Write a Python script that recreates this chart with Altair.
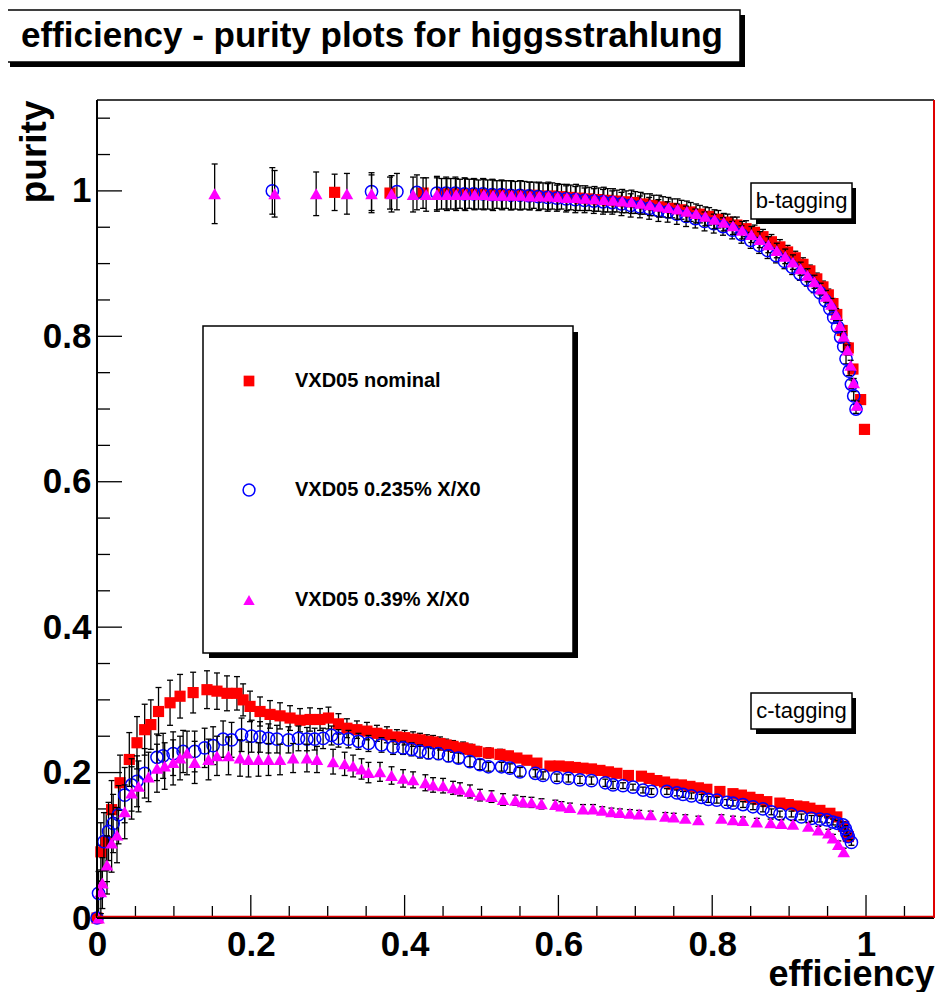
import altair as alt
import pandas as pd

# ---------------- data ----------------
series_names = ["VXD05 nominal", "VXD05 0.235% X/X0", "VXD05 0.39% X/X0"]
title_text = "efficiency - purity plots for higgsstrahlung"
x_title = "efficiency"
y_title = "purity"
tag_labels = ["b-tagging", "c-tagging"]

major_ticks = [0, 0.2, 0.4, 0.6, 0.8, 1.0]
x_minor_ticks = [0.05, 0.1, 0.15, 0.25, 0.3, 0.35, 0.45, 0.5, 0.55, 0.65, 0.7, 0.75, 0.85, 0.9, 0.95, 1.05]
y_minor_ticks = [0.05, 0.1, 0.15, 0.25, 0.3, 0.35, 0.45, 0.5, 0.55, 0.65, 0.7, 0.75, 0.85, 0.9, 0.95, 1.05, 1.1]

# b-tagging, nominal
b_nom_x = [0.309, 0.381, 0.424, 0.448, 0.460, 0.472, 0.484, 0.496, 0.508, 0.520,
           0.532, 0.544, 0.556, 0.568, 0.580, 0.592, 0.604, 0.616, 0.628, 0.640,
           0.652, 0.664, 0.676, 0.688, 0.700, 0.712, 0.724, 0.736, 0.748, 0.760,
           0.772, 0.784, 0.796, 0.808, 0.820, 0.832, 0.844, 0.855, 0.866, 0.877,
           0.888, 0.898, 0.908, 0.918, 0.927, 0.936, 0.944, 0.951, 0.957, 0.962,
           0.969, 0.977, 0.983, 0.993, 0.998]
b_nom_y = [0.998, 0.997, 0.997, 0.996, 0.996, 0.996, 0.996, 0.995, 0.995, 0.995,
           0.995, 0.994, 0.994, 0.994, 0.993, 0.993, 0.992, 0.991, 0.990, 0.989,
           0.988, 0.987, 0.986, 0.985, 0.984, 0.982, 0.980, 0.978, 0.976, 0.974,
           0.971, 0.968, 0.965, 0.961, 0.957, 0.953, 0.948, 0.943, 0.937, 0.930,
           0.923, 0.916, 0.908, 0.899, 0.890, 0.879, 0.868, 0.857, 0.845, 0.830,
           0.808, 0.784, 0.755, 0.713, 0.672]
b_nom_e = [0.025, 0.022, 0.021, 0.021, 0.021, 0.020, 0.020, 0.020, 0.020, 0.019,
           0.019, 0.019, 0.019, 0.018, 0.018, 0.018, 0.017, 0.017, 0.017, 0.016,
           0.016, 0.016, 0.015, 0.015, 0.015, 0.014, 0.014, 0.014, 0.013, 0.013,
           0.013, 0.012, 0.012, 0.012, 0.011, 0.011, 0.011, 0.010, 0.010, 0.010,
           0.010, 0.009, 0.009, 0.009, 0.008, 0.008, 0.008, 0.008, 0.007, 0.007,
           0.007, 0.007, 0.006, 0.006, 0.006]

# b-tagging, 0.235% X/X0
b_235_x = [0.228, 0.357, 0.390, 0.416, 0.442, 0.454, 0.466, 0.478, 0.490, 0.502,
           0.514, 0.526, 0.538, 0.550, 0.562, 0.574, 0.586, 0.598, 0.610, 0.622,
           0.634, 0.646, 0.658, 0.670, 0.682, 0.694, 0.706, 0.718, 0.730, 0.742,
           0.754, 0.766, 0.778, 0.790, 0.802, 0.814, 0.826, 0.838, 0.850, 0.861,
           0.872, 0.883, 0.894, 0.904, 0.914, 0.923, 0.932, 0.940, 0.947, 0.953,
           0.958, 0.963, 0.967, 0.971, 0.974, 0.978, 0.981, 0.984, 0.987]
b_235_y = [1.0, 0.999, 0.999, 0.998, 0.997, 0.997, 0.997, 0.996, 0.996, 0.996,
           0.995, 0.995, 0.994, 0.994, 0.993, 0.992, 0.991, 0.990, 0.989, 0.988,
           0.987, 0.986, 0.985, 0.984, 0.982, 0.980, 0.978, 0.976, 0.973, 0.971,
           0.968, 0.965, 0.962, 0.958, 0.955, 0.951, 0.946, 0.940, 0.932, 0.925,
           0.918, 0.911, 0.903, 0.895, 0.886, 0.878, 0.869, 0.860, 0.849, 0.838,
           0.826, 0.813, 0.799, 0.786, 0.769, 0.752, 0.734, 0.718, 0.700]
b_235_e = [0.032, 0.026, 0.025, 0.024, 0.023, 0.022, 0.022, 0.022, 0.021, 0.021,
           0.021, 0.020, 0.020, 0.020, 0.019, 0.019, 0.019, 0.018, 0.018, 0.018,
           0.017, 0.017, 0.017, 0.016, 0.016, 0.016, 0.015, 0.015, 0.015, 0.014,
           0.014, 0.014, 0.013, 0.013, 0.013, 0.012, 0.012, 0.012, 0.011, 0.011,
           0.011, 0.010, 0.010, 0.010, 0.009, 0.009, 0.009, 0.008, 0.008, 0.008,
           0.008, 0.007, 0.007, 0.007, 0.007, 0.006, 0.006, 0.006, 0.006]

# b-tagging, 0.39% X/X0
b_39_x = [0.153, 0.231, 0.285, 0.325, 0.357, 0.383, 0.411, 0.428, 0.442, 0.455,
          0.467, 0.479, 0.491, 0.503, 0.515, 0.527, 0.539, 0.551, 0.563, 0.575,
          0.587, 0.599, 0.611, 0.623, 0.635, 0.647, 0.659, 0.671, 0.683, 0.695,
          0.707, 0.719, 0.731, 0.743, 0.755, 0.767, 0.779, 0.791, 0.803, 0.815,
          0.827, 0.839, 0.851, 0.862, 0.873, 0.884, 0.895, 0.905, 0.915, 0.924,
          0.933, 0.941, 0.948, 0.955, 0.961, 0.966, 0.971, 0.976, 0.980, 0.984, 0.988]
b_39_y = [0.996, 0.996, 0.996, 0.996, 0.996, 0.996, 0.995, 0.995, 0.995, 0.995,
          0.995, 0.995, 0.995, 0.995, 0.994, 0.994, 0.994, 0.994, 0.993, 0.993,
          0.993, 0.992, 0.991, 0.991, 0.990, 0.989, 0.988, 0.987, 0.986, 0.985,
          0.983, 0.981, 0.979, 0.977, 0.975, 0.972, 0.969, 0.965, 0.961, 0.957,
          0.952, 0.946, 0.940, 0.933, 0.926, 0.918, 0.910, 0.902, 0.893, 0.884,
          0.875, 0.865, 0.855, 0.844, 0.830, 0.815, 0.800, 0.781, 0.760, 0.736, 0.705]
b_39_e = [0.041, 0.032, 0.030, 0.028, 0.026, 0.025, 0.024, 0.023, 0.023, 0.022,
          0.022, 0.022, 0.021, 0.021, 0.021, 0.020, 0.020, 0.020, 0.019, 0.019,
          0.019, 0.018, 0.018, 0.018, 0.017, 0.017, 0.017, 0.016, 0.016, 0.016,
          0.015, 0.015, 0.015, 0.014, 0.014, 0.014, 0.013, 0.013, 0.013, 0.012,
          0.012, 0.012, 0.011, 0.011, 0.011, 0.010, 0.010, 0.010, 0.009, 0.009,
          0.009, 0.008, 0.008, 0.008, 0.008, 0.007, 0.007, 0.007, 0.007, 0.006, 0.006]

# c-tagging, nominal
c_nom_x = [0, 0.005, 0.012, 0.019, 0.030, 0.042, 0.052, 0.062, 0.070, 0.080,
           0.095, 0.108, 0.125, 0.143, 0.156, 0.169, 0.182, 0.190, 0.199, 0.212,
           0.225, 0.238, 0.251, 0.264, 0.277, 0.290, 0.301, 0.314, 0.325, 0.338,
           0.351, 0.364, 0.377, 0.390, 0.400, 0.411, 0.420, 0.429, 0.437, 0.446,
           0.454, 0.463, 0.476, 0.485, 0.494, 0.509, 0.524, 0.535, 0.546, 0.559,
           0.572, 0.589, 0.601, 0.613, 0.622, 0.632, 0.643, 0.654, 0.665, 0.676,
           0.691, 0.708, 0.718, 0.728, 0.738, 0.749, 0.760, 0.771, 0.782, 0.793,
           0.810, 0.827, 0.838, 0.849, 0.860, 0.871, 0.888, 0.899, 0.910, 0.919,
           0.927, 0.940, 0.953, 0.962, 0.971, 0.977]
c_nom_y = [0, 0.091, 0.105, 0.149, 0.186, 0.218, 0.241, 0.259, 0.266, 0.284,
           0.296, 0.305, 0.310, 0.314, 0.312, 0.309, 0.309, 0.300, 0.291, 0.284,
           0.280, 0.278, 0.275, 0.272, 0.273, 0.273, 0.275, 0.267, 0.261, 0.259,
           0.257, 0.254, 0.252, 0.249, 0.248, 0.246, 0.245, 0.243, 0.242, 0.240,
           0.238, 0.236, 0.234, 0.232, 0.229, 0.227, 0.225, 0.223, 0.220, 0.217,
           0.213, 0.209, 0.209, 0.208, 0.207, 0.206, 0.205, 0.203, 0.201, 0.199,
           0.196, 0.195, 0.192, 0.189, 0.187, 0.184, 0.183, 0.181, 0.179, 0.177,
           0.174, 0.171, 0.169, 0.166, 0.163, 0.160, 0.158, 0.156, 0.154, 0.153,
           0.151, 0.148, 0.144, 0.139, 0.126, 0.112]
c_nom_e = [0, 0.04, 0.04, 0.04, 0.038, 0.037, 0.036, 0.035, 0.034, 0.033,
           0.031, 0.030, 0.028, 0.026, 0.025, 0.024, 0.023, 0.022, 0.021, 0.020,
           0.019, 0.018, 0.017, 0.016, 0.016, 0.015, 0.015, 0.014, 0.013, 0.012,
           0.012, 0.011, 0.011, 0.010, 0.010, 0.010, 0.009, 0.009, 0.009, 0.009,
           0.008, 0.008, 0.008, 0.007, 0.007, 0.007, 0.007, 0.006, 0.006, 0.006,
           0.006, 0.006, 0.005, 0.005, 0.005, 0.005, 0.005, 0.005, 0.005, 0.005,
           0.005, 0.005, 0.004, 0.004, 0.004, 0.004, 0.004, 0.004, 0.004, 0.004,
           0.004, 0.004, 0.004, 0.004, 0.004, 0.004, 0.004, 0.004, 0.004, 0.004,
           0.004, 0.004, 0.004, 0.004, 0.004, 0.004]

# c-tagging, 0.235% X/X0
c_235_x = [0, 0.002, 0.009, 0.015, 0.021, 0.028, 0.036, 0.045, 0.052, 0.062,
           0.078, 0.086, 0.099, 0.112, 0.127, 0.140, 0.151, 0.164, 0.175, 0.188,
           0.201, 0.212, 0.223, 0.234, 0.249, 0.262, 0.273, 0.283, 0.294, 0.305,
           0.314, 0.327, 0.340, 0.353, 0.370, 0.385, 0.398, 0.409, 0.420, 0.431,
           0.444, 0.457, 0.470, 0.485, 0.498, 0.509, 0.526, 0.537, 0.550, 0.570,
           0.580, 0.598, 0.613, 0.628, 0.643, 0.661, 0.671, 0.684, 0.697, 0.710,
           0.721, 0.741, 0.754, 0.762, 0.773, 0.786, 0.795, 0.806, 0.819, 0.827,
           0.840, 0.853, 0.866, 0.877, 0.888, 0.903, 0.916, 0.929, 0.940, 0.949,
           0.957, 0.963, 0.970, 0.973, 0.975, 0.977, 0.981]
c_235_y = [0, 0.034, 0.105, 0.119, 0.130, 0.142, 0.169, 0.183, 0.188, 0.199,
           0.221, 0.223, 0.226, 0.229, 0.229, 0.234, 0.237, 0.246, 0.245, 0.252,
           0.250, 0.249, 0.247, 0.246, 0.245, 0.247, 0.246, 0.246, 0.247, 0.251,
           0.247, 0.246, 0.243, 0.240, 0.238, 0.235, 0.234, 0.232, 0.229, 0.227,
           0.226, 0.223, 0.220, 0.215, 0.211, 0.208, 0.208, 0.206, 0.201, 0.199,
           0.196, 0.193, 0.192, 0.190, 0.189, 0.186, 0.183, 0.182, 0.180, 0.176,
           0.174, 0.174, 0.172, 0.170, 0.168, 0.166, 0.163, 0.162, 0.159, 0.158,
           0.156, 0.153, 0.150, 0.146, 0.143, 0.143, 0.139, 0.137, 0.136, 0.135,
           0.132, 0.130, 0.128, 0.123, 0.117, 0.112, 0.104]
c_235_e = [0, 0.03, 0.04, 0.04, 0.04, 0.04, 0.038, 0.036, 0.035, 0.034,
           0.032, 0.031, 0.03, 0.029, 0.028, 0.027, 0.026, 0.025, 0.024, 0.023,
           0.022, 0.021, 0.02, 0.019, 0.018, 0.017, 0.016, 0.015, 0.014, 0.013,
           0.012, 0.012, 0.011, 0.011, 0.010, 0.010, 0.009, 0.009, 0.009, 0.008,
           0.008, 0.008, 0.007, 0.007, 0.007, 0.006, 0.006, 0.006, 0.006, 0.005,
           0.005, 0.005, 0.005, 0.005, 0.005, 0.005, 0.005, 0.004, 0.004, 0.004,
           0.004, 0.004, 0.004, 0.004, 0.004, 0.004, 0.004, 0.004, 0.004, 0.004,
           0.004, 0.004, 0.004, 0.004, 0.004, 0.004, 0.004, 0.004, 0.004, 0.004,
           0.004, 0.004, 0.004, 0.004, 0.004, 0.004, 0.004]

# c-tagging, 0.39% X/X0
c_39_x = [0.002, 0.005, 0.007, 0.013, 0.019, 0.026, 0.036, 0.045, 0.054, 0.067,
          0.078, 0.088, 0.099, 0.108, 0.117, 0.127, 0.145, 0.156, 0.171, 0.186,
          0.197, 0.210, 0.223, 0.238, 0.255, 0.273, 0.286, 0.307, 0.322, 0.333,
          0.344, 0.353, 0.368, 0.383, 0.398, 0.411, 0.427, 0.437, 0.450, 0.463,
          0.472, 0.485, 0.498, 0.513, 0.528, 0.544, 0.554, 0.565, 0.578, 0.596,
          0.604, 0.615, 0.632, 0.645, 0.657, 0.669, 0.680, 0.693, 0.705, 0.720,
          0.739, 0.750, 0.765, 0.782, 0.812, 0.827, 0.840, 0.858, 0.876, 0.890,
          0.905, 0.925, 0.938, 0.951, 0.957, 0.964, 0.971]
c_39_y = [0, 0.036, 0.048, 0.073, 0.103, 0.114, 0.146, 0.172, 0.181, 0.194,
          0.206, 0.209, 0.214, 0.220, 0.227, 0.214, 0.218, 0.223, 0.223, 0.220,
          0.218, 0.218, 0.218, 0.218, 0.220, 0.220, 0.218, 0.215, 0.212, 0.209,
          0.205, 0.200, 0.201, 0.196, 0.192, 0.190, 0.186, 0.183, 0.182, 0.179,
          0.177, 0.174, 0.169, 0.167, 0.163, 0.162, 0.160, 0.159, 0.157, 0.156,
          0.154, 0.152, 0.150, 0.150, 0.148, 0.146, 0.145, 0.144, 0.143, 0.142,
          0.140, 0.139, 0.137, 0.135, 0.137, 0.135, 0.134, 0.132, 0.131, 0.130,
          0.129, 0.126, 0.121, 0.117, 0.110, 0.101, 0.091]
c_39_e = [0, 0.03, 0.035, 0.04, 0.04, 0.038, 0.037, 0.036, 0.035, 0.034,
          0.033, 0.032, 0.031, 0.03, 0.03, 0.029, 0.028, 0.027, 0.026, 0.025,
          0.024, 0.023, 0.022, 0.021, 0.02, 0.019, 0.018, 0.017, 0.016, 0.015,
          0.014, 0.014, 0.013, 0.012, 0.012, 0.011, 0.011, 0.010, 0.010, 0.009,
          0.009, 0.009, 0.008, 0.008, 0.008, 0.007, 0.007, 0.007, 0.007, 0.006,
          0.006, 0.006, 0.006, 0.006, 0.005, 0.005, 0.005, 0.005, 0.005, 0.005,
          0.005, 0.005, 0.005, 0.005, 0.005, 0.005, 0.005, 0.005, 0.005, 0.005,
          0.005, 0.005, 0.005, 0.005, 0.005, 0.005, 0.005]


def table(xs, ys, es, name, tag):
    return pd.DataFrame({"eff": xs, "pur": ys, "err": es, "series": name, "tag": tag})


df = pd.concat([
    table(b_nom_x, b_nom_y, b_nom_e, series_names[0], "b"),
    table(c_nom_x, c_nom_y, c_nom_e, series_names[0], "c"),
    table(b_235_x, b_235_y, b_235_e, series_names[1], "b"),
    table(c_235_x, c_235_y, c_235_e, series_names[1], "c"),
    table(b_39_x, b_39_y, b_39_e, series_names[2], "b"),
    table(c_39_x, c_39_y, c_39_e, series_names[2], "c"),
], ignore_index=True)

# ---------------- styling ----------------
FONT = "Liberation Sans"
W, H = 837, 818
XS = alt.Scale(domain=[0, 1.0884], nice=False, zero=False)
YS = alt.Scale(domain=[0, 1.125], nice=False, zero=False)

AX_X = alt.Axis(values=major_ticks, format="~g", grid=False, domain=False, ticks=False, tickSize=0,
                labelFont=FONT, labelFontSize=35, labelFontWeight="bold", labelColor="black",
                labelPadding=9, labelFlush=False, labelOverlap=False,
                title=x_title, titleFont=FONT, titleFontSize=36, titleFontWeight="bold", titleColor="black",
                titleX=837, titleY=67, titleAlign="right", titleBaseline="alphabetic")
AX_Y = alt.Axis(values=major_ticks, format="~g", grid=False, domain=False, ticks=False, tickSize=0,
                labelFont=FONT, labelFontSize=35, labelFontWeight="bold", labelColor="black",
                labelPadding=6, labelFlush=False, labelOverlap=False,
                title=y_title, titleFont=FONT, titleFontSize=37, titleFontWeight="bold", titleColor="black",
                titleAngle=270, titleX=-52, titleY=0, titleAlign="right", titleBaseline="alphabetic")

xenc = alt.X("eff:Q", scale=XS, axis=AX_X)
yenc = alt.Y("pur:Q", scale=YS, axis=AX_Y)

colors = ["#ff0000", "#0000ff", "#ff00ff"]

layers = []


def bg_rect(x1, x2, y1, y2, fill, stroke=None):
    m = alt.Chart(pd.DataFrame({"k": [0]}))
    kw = dict(fill=fill, strokeWidth=1.5)
    if stroke:
        kw["stroke"] = stroke
    return m.mark_rect(**kw).encode(x=alt.value(x1), x2=alt.value(x2), y=alt.value(y1), y2=alt.value(y2))


# axis ticks (inside the frame)
xmaj = pd.DataFrame({"eff": major_ticks})
xmin = pd.DataFrame({"eff": x_minor_ticks})
ymaj = pd.DataFrame({"pur": major_ticks})
ymin = pd.DataFrame({"pur": y_minor_ticks})
layers.append(alt.Chart(xmaj).mark_rule(color="black", strokeWidth=1.3).encode(
    x=xenc, y=alt.value(H), y2=alt.value(H - 23)))
layers.append(alt.Chart(xmin).mark_rule(color="black", strokeWidth=1.3).encode(
    x=xenc, y=alt.value(H), y2=alt.value(H - 12)))
layers.append(alt.Chart(ymaj).mark_rule(color="black", strokeWidth=1.3).encode(
    y=yenc, x=alt.value(0), x2=alt.value(25)))
layers.append(alt.Chart(ymin).mark_rule(color="black", strokeWidth=1.3).encode(
    y=yenc, x=alt.value(0), x2=alt.value(13)))

# series: error bars then markers, in ROOT drawing order
for i, name in enumerate(series_names):
    d = alt.Chart(df).transform_filter(alt.datum.series == name)
    e = d.transform_filter("datum.err > 0").transform_calculate(
        lo="datum.pur - datum.err", hi="datum.pur + datum.err")
    layers.append(e.mark_rule(color="black", strokeWidth=1.3).encode(
        x=xenc, y=alt.Y("lo:Q", scale=YS, axis=AX_Y), y2="hi:Q"))
    for f in ["lo", "hi"]:
        layers.append(e.mark_tick(orient="horizontal", size=6, thickness=1.3, color="black", opacity=1).encode(
            x=xenc, y=alt.Y(f + ":Q", scale=YS, axis=AX_Y)))
    if i == 0:
        m = d.mark_square(size=125, color=colors[0], opacity=1)
    elif i == 1:
        m = d.mark_point(shape="circle", size=150, filled=False, color=colors[1], strokeWidth=1.5, opacity=1)
    else:
        m = d.mark_point(shape="triangle-up", size=160, filled=True, color=colors[2], opacity=1)
    layers.append(m.encode(x=xenc, y=yenc))

# frame
one = alt.Chart(pd.DataFrame({"k": [0]}))
layers.append(one.mark_rule(color="black", strokeWidth=1.5).encode(x=alt.value(0), x2=alt.value(W), y=alt.value(0)))
layers.append(one.mark_rule(color="black", strokeWidth=2).encode(x=alt.value(0), y=alt.value(0), y2=alt.value(H)))
layers.append(one.mark_rule(color="black", strokeWidth=2).encode(x=alt.value(0), x2=alt.value(W), y=alt.value(H)))
layers.append(one.mark_rule(color="#e00000", strokeWidth=1.5).encode(x=alt.value(0), x2=alt.value(W), y=alt.value(H - 1.5)))
layers.append(one.mark_rule(color="#e00000", strokeWidth=2).encode(x=alt.value(W), y=alt.value(0), y2=alt.value(H)))

# title box with shadow
layers.append(bg_rect(-87, 648, -85, -33, "black"))
layers.append(bg_rect(-92, 643, -90, -38, "white", "black"))
layers.append(alt.Chart(pd.DataFrame({"t": [title_text]})).mark_text(
    font=FONT, fontSize=35, fontWeight="bold", color="black", align="center", baseline="middle").encode(
    x=alt.value(275), y=alt.value(-64), text="t:N"))

# legend box with shadow
layers.append(bg_rect(112, 481, 232, 558, "black"))
layers.append(bg_rect(106, 476, 226, 553, "white", "black"))
leg_y = [281, 390, 500]
layers.append(one.mark_square(size=115, color=colors[0], opacity=1).encode(x=alt.value(152), y=alt.value(leg_y[0])))
layers.append(one.mark_point(shape="circle", size=140, filled=False, color=colors[1], strokeWidth=1.5, opacity=1).encode(
    x=alt.value(152), y=alt.value(leg_y[1])))
layers.append(one.mark_point(shape="triangle-up", size=130, filled=True, color=colors[2], opacity=1).encode(
    x=alt.value(152), y=alt.value(leg_y[2])))
for k in range(3):
    layers.append(alt.Chart(pd.DataFrame({"t": [series_names[k]]})).mark_text(
        font=FONT, fontSize=20, fontWeight="bold", color="black", align="left", baseline="middle").encode(
        x=alt.value(198), y=alt.value(leg_y[k]), text="t:N"))

# b-tagging / c-tagging boxes
for (ty, lab) in [(83, tag_labels[0]), (593, tag_labels[1])]:
    layers.append(bg_rect(659, 759, ty + 5, ty + 41, "black"))
    layers.append(bg_rect(654, 755, ty, ty + 36, "white", "black"))
    layers.append(alt.Chart(pd.DataFrame({"t": [lab]})).mark_text(
        font=FONT, fontSize=22, color="black", align="center", baseline="middle").encode(
        x=alt.value(704.5), y=alt.value(ty + 18), text="t:N"))

chart = alt.layer(*layers).properties(
    width=W, height=H,
    autosize=alt.AutoSizeParams(type="none"),
    padding={"left": 89, "top": 92, "right": 1, "bottom": 74},
    background="white",
).configure_view(stroke=None)

chart.save("out.html", embed_options={"renderer": "svg", "actions": False})
